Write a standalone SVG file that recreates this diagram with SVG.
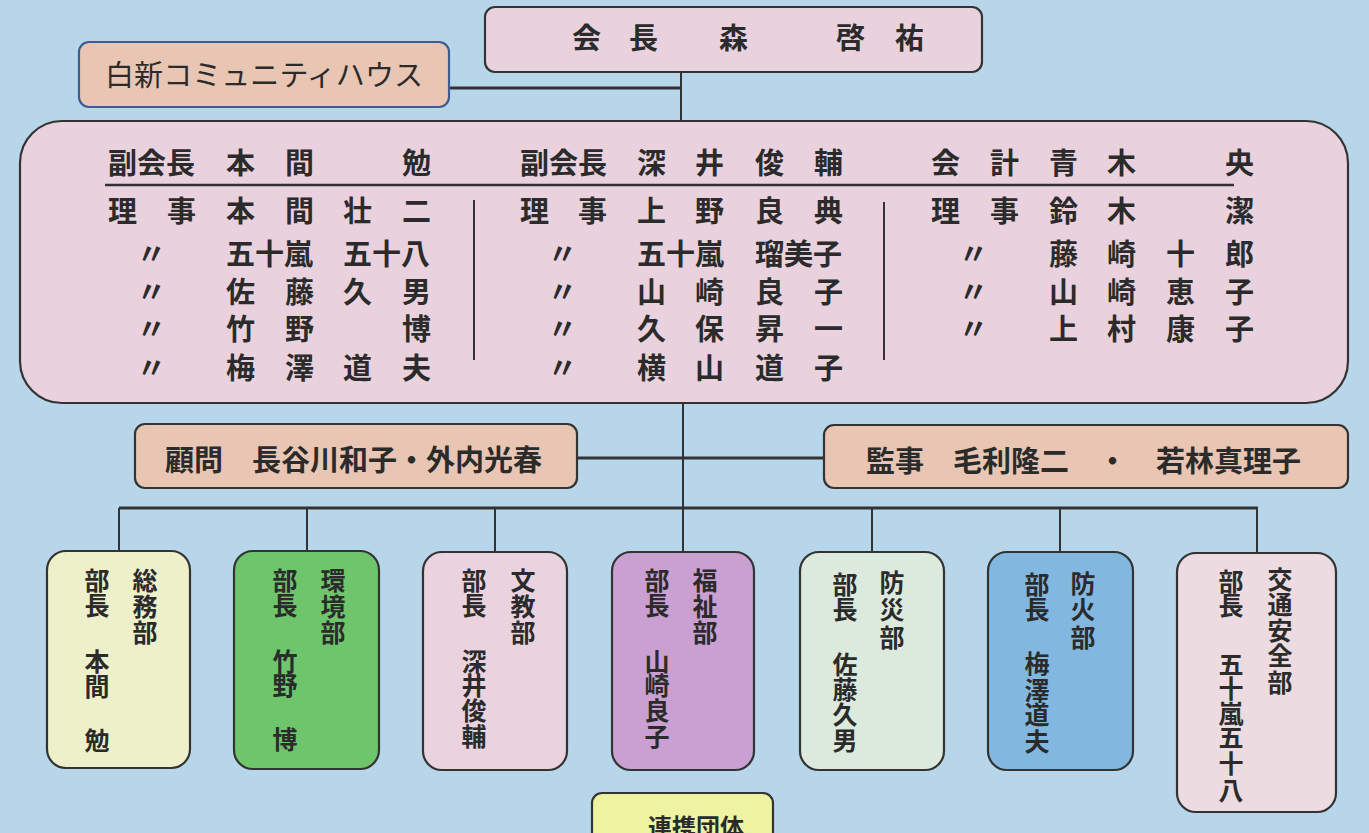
<svg xmlns="http://www.w3.org/2000/svg" width="1369" height="833" viewBox="0 0 1369 833">
<style>
  text { font-family: "Noto Sans CJK JP", "Noto Sans CJK SC", sans-serif; font-weight: bold; fill: #2b2b2b; dominant-baseline: central; }
  .big { font-size: 29px; }
  .mid { font-size: 29px; }
  .dept { font-size: 25px; text-anchor: middle; }
  .box { stroke: #333; stroke-width: 2.2; }
  .con { stroke: #333; stroke-width: 2; fill: none; }
  .con2 { stroke: #333; stroke-width: 3; fill: none; }
</style>
<rect x="0" y="0" width="1369" height="833" fill="#b8d6e9"/>

<g id="connectors">
  <line class="con" x1="681" y1="72" x2="681" y2="121"/>
  <line class="con2" x1="449" y1="88" x2="681" y2="88"/>
  <line class="con" x1="683" y1="402" x2="683" y2="553"/>
  <line class="con2" x1="577" y1="458" x2="824" y2="458"/>
  <line class="con2" x1="119" y1="508" x2="1258" y2="508"/>
  <line class="con" x1="119" y1="508" x2="119" y2="551"/>
  <line class="con" x1="307" y1="508" x2="307" y2="551"/>
  <line class="con" x1="495" y1="508" x2="495" y2="553"/>
  <line class="con" x1="872" y1="508" x2="872" y2="553"/>
  <line class="con" x1="1060" y1="508" x2="1060" y2="553"/>
  <line class="con" x1="1257" y1="508" x2="1257" y2="554"/>
</g>

<g id="president">
  <rect class="box" x="485" y="7" width="497" height="65" rx="10" fill="#e9d2dd"/>
  <text class="big" x="572 629 719 836 895" y="36">会長森啓祐</text>
</g>

<g id="community-house">
  <rect x="79" y="42" width="370" height="65" rx="10" fill="#e8c6b3" stroke="#3d5c92" stroke-width="2.2"/>
  <text class="mid" x="105" y="73" font-weight="normal" style="font-weight:normal" textLength="318">白新コミュニティハウス</text>
</g>

<g id="board">
  <rect class="box" x="20" y="121" width="1328" height="282" rx="42" fill="#e9d2dd"/>
  <line stroke="#333" stroke-width="2.5" x1="105" y1="185" x2="1234" y2="185"/>
  <line stroke="#333" stroke-width="2" x1="474" y1="200" x2="474" y2="360"/>
  <line stroke="#333" stroke-width="2" x1="884" y1="202" x2="884" y2="360"/>
  <!-- row 1 -->
  <text class="big" x="108" y="161">副会長</text>
  <text class="big" x="226 285 402" y="161">本間勉</text>
  <text class="big" x="520" y="161">副会長</text>
  <text class="big" x="637 695 755 814" y="161">深井俊輔</text>
  <text class="big" x="931 990 1049 1107 1225" y="161">会計青木央</text>
  <!-- row 2 -->
  <text class="big" x="108 167 226 285 343 402" y="209">理事本間壮二</text>
  <text class="big" x="520 578 637 695 755 814" y="209">理事上野良典</text>
  <text class="big" x="931 990 1049 1107 1225" y="209">理事鈴木潔</text>
  <!-- row 3 -->
  <text class="big" x="137" y="252">〃</text>
  <text class="big" x="226" y="252">五十嵐</text>
  <text class="big" x="343" y="252">五十八</text>
  <text class="big" x="548" y="252">〃</text>
  <text class="big" x="637" y="252">五十嵐</text>
  <text class="big" x="755" y="252">瑠美子</text>
  <text class="big" x="959" y="252">〃</text>
  <text class="big" x="1049 1107 1166 1225" y="252">藤崎十郎</text>
  <!-- row 4 -->
  <text class="big" x="137" y="290">〃</text>
  <text class="big" x="226 285 343 402" y="290">佐藤久男</text>
  <text class="big" x="548" y="290">〃</text>
  <text class="big" x="637 695 755 814" y="290">山崎良子</text>
  <text class="big" x="959" y="290">〃</text>
  <text class="big" x="1049 1107 1166 1225" y="290">山崎恵子</text>
  <!-- row 5 -->
  <text class="big" x="137" y="327">〃</text>
  <text class="big" x="226 285 402" y="327">竹野博</text>
  <text class="big" x="548" y="327">〃</text>
  <text class="big" x="637 695 755 814" y="327">久保昇一</text>
  <text class="big" x="959" y="327">〃</text>
  <text class="big" x="1049 1107 1166 1225" y="327">上村康子</text>
  <!-- row 6 -->
  <text class="big" x="137" y="366">〃</text>
  <text class="big" x="226 285 343 402" y="366">梅澤道夫</text>
  <text class="big" x="548" y="366">〃</text>
  <text class="big" x="637 695 755 814" y="366">横山道子</text>
</g>

<g id="advisors">
  <rect class="box" x="135" y="424" width="442" height="64" rx="10" fill="#e8c6b3"/>
  <text class="mid" x="165" y="458">顧問　長谷川和子・外内光春</text>
</g>

<g id="auditors">
  <rect class="box" x="824" y="425" width="524" height="63" rx="10" fill="#e8c6b3"/>
  <text class="mid" x="866" y="459">監事　毛利隆二　・　若林真理子</text>
</g>

<g id="dept-soumu">
  <rect class="box" x="47" y="551" width="143" height="217" rx="19" fill="#eef0ca"/>
  <text class="dept" x="145 145 145" y="579 605 631">総務部</text>
  <text class="dept" x="97 97 97 97 97" y="579 604 660 685 739">部長本間勉</text>
</g>

<g id="dept-kankyou">
  <rect class="box" x="234" y="551" width="145" height="218" rx="19" fill="#6ec56c"/>
  <text class="dept" x="333 333 333" y="579 605 631">環境部</text>
  <text class="dept" x="285 285 285 285 285" y="579 604 660 684 738">部長竹野博</text>
</g>

<g id="dept-bunkyou">
  <rect class="box" x="423" y="552" width="144" height="218" rx="19" fill="#ead3df"/>
  <text class="dept" x="523 523 523" y="579 605 631">文教部</text>
  <text class="dept" x="474 474 474 474 474 474" y="579 604 660 684 709 735">部長深井俊輔</text>
</g>

<g id="dept-fukushi">
  <rect class="box" x="612" y="552" width="142" height="218" rx="19" fill="#c9a0d1"/>
  <text class="dept" x="705 705 705" y="579 605 631">福祉部</text>
  <text class="dept" x="657 657 657 657 657 657" y="579 604 660 684 709 735">部長山崎良子</text>
</g>

<g id="dept-bousai">
  <rect class="box" x="800" y="552" width="144" height="218" rx="19" fill="#dbeadc"/>
  <text class="dept" x="892 892 892" y="581 608 636">防災部</text>
  <text class="dept" x="845 845 845 845 845 845" y="583 608 663 688 713 739">部長佐藤久男</text>
</g>

<g id="dept-bouka">
  <rect class="box" x="988" y="552" width="145" height="218" rx="19" fill="#82b8e0"/>
  <text class="dept" x="1083 1083 1083" y="582 608 636">防火部</text>
  <text class="dept" x="1037 1037 1037 1037 1037 1037" y="583 608 662 689 713 740">部長梅澤道夫</text>
</g>

<g id="dept-koutsuu">
  <rect class="box" x="1177" y="553" width="159" height="259" rx="19" fill="#ecdbe0"/>
  <text class="dept" x="1280 1280 1280 1280 1280" y="578 603 629 654 681">交通安全部</text>
  <text class="dept" x="1231 1231 1231 1231 1231 1231 1231 1231" y="580 604 663 687 712 736 762 789">部長五十嵐五十八</text>
</g>

<g id="partners">
  <rect class="box" x="592" y="793" width="181" height="60" rx="10" fill="#eef3a2"/>
  <text x="648" y="825" style="font-size:24px">連携団体</text>
</g>
</svg>
